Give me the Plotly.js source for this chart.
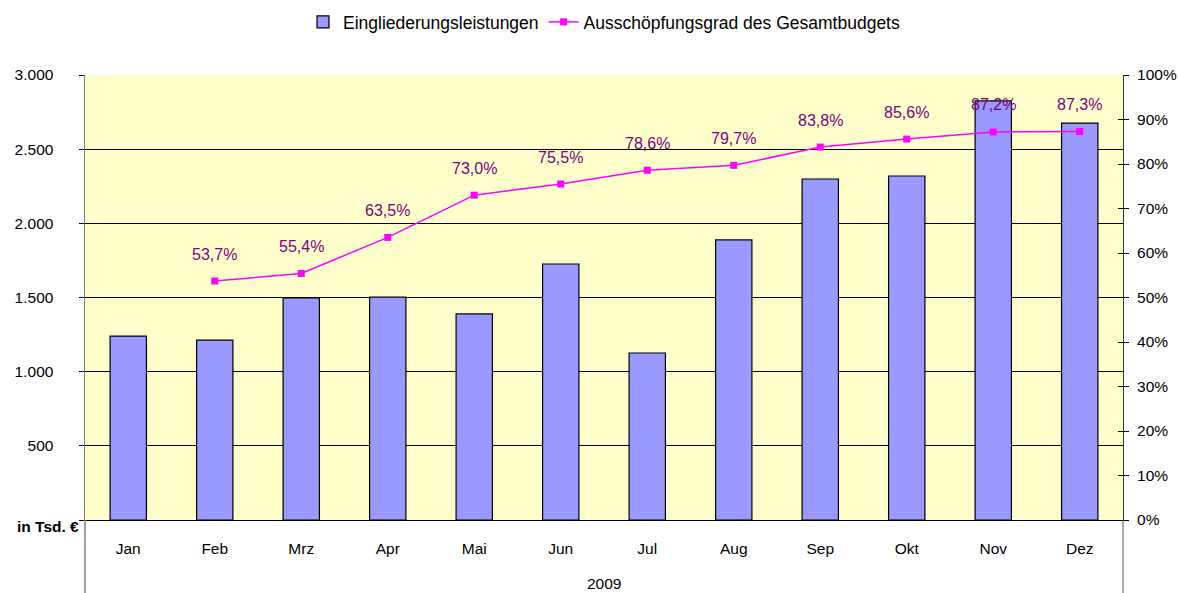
<!DOCTYPE html>
<html>
<head>
<meta charset="utf-8">
<script src="https://cdn.plot.ly/plotly-3.0.1.min.js"></script>
<style>html,body{margin:0;padding:0;background:#fff;}#chart{width:1178px;height:593px;}</style>
</head>
<body>
<div id="chart"></div>
<script>
var months = ["Jan","Feb","Mrz","Apr","Mai","Jun","Jul","Aug","Sep","Okt","Nov","Dez"];
var leistungen = [1240,1213,1497,1503,1389,1726,1126,1888,2299,2319,2825,2676];
var ausschoepfung = [null,53.7,55.4,63.5,73.0,75.5,78.6,79.7,83.8,85.6,87.2,87.3];
var leftTickVals = [0,500,1000,1500,2000,2500,3000];
var leftTickText = ["","500","1.000","1.500","2.000","2.500","3.000"];
var unitLabel = "in Tsd. €";
var yearLabel = "2009";

var font = "Liberation Sans, Arial, sans-serif";

var traces = [
  {type:"bar", name:"Eingliederungsleistungen", x:months, y:leistungen, width:0.42,
   marker:{color:"#9999FF", line:{color:"#000000", width:1.2}}, yaxis:"y"},
  {type:"scatter", mode:"lines+markers", name:"Ausschöpfungsgrad des Gesamtbudgets",
   x:months, y:ausschoepfung, yaxis:"y2", connectgaps:false,
   line:{color:"#FF00FF", width:1.5}, marker:{symbol:"square", size:7, color:"#FF00FF"}},
  {type:"scatter", mode:"none", x:[months[0]], y:[0], yaxis:"y3", showlegend:false, hoverinfo:"skip"}
];

var annotations = [];
for (var i = 0; i < months.length; i++) {
  if (ausschoepfung[i] === null) continue;
  annotations.push({x:months[i], y:ausschoepfung[i], xref:"x", yref:"y2",
    text: ausschoepfung[i].toFixed(1).replace(".", ",") + "%", showarrow:false,
    yshift:27, font:{family:font, size:16, color:"#800080"}});
}
annotations.push({x:0.5, y:-(583-520)/445, xref:"paper", yref:"paper", text:yearLabel,
  showarrow:false, yanchor:"middle", font:{family:font, size:15.5, color:"#000"}});
annotations.push({x:0, y:0, xref:"paper", yref:"y", text:"<b>" + unitLabel + "</b>",
  showarrow:false, xanchor:"right", yanchor:"middle", xshift:-4, yshift:-6,
  font:{family:font, size:15.5, color:"#000"}});

var layout = {
  width:1178, height:593,
  margin:{l:85, r:55, t:75, b:73},
  paper_bgcolor:"#FFFFFF", plot_bgcolor:"#FFFFCC",
  font:{family:font, size:15.5, color:"#000"},
  showlegend:true,
  legend:{orientation:"h", x:0.5, xanchor:"center", xref:"paper", y:1-22/593, yref:"container", yanchor:"middle",
    font:{family:font, size:17.5, color:"#000"}, bgcolor:"rgba(0,0,0,0)"},
  xaxis:{type:"category", range:[-0.5, 11.5], showline:true, linecolor:"#000", linewidth:1, ticks:"",
    showgrid:false, zeroline:false, ticklabelstandoff:14, fixedrange:true},
  yaxis:{range:[0,3000], tickvals:leftTickVals, ticktext:leftTickText, ticks:"outside",
    ticklen:5, tickcolor:"#000", showline:true, linecolor:"#808080", linewidth:1.5,
    showgrid:true, gridcolor:"#000000", gridwidth:1, zeroline:false, ticklabelstandoff:22},
  yaxis2:{range:[0,100], overlaying:"y", side:"right", dtick:10, ticksuffix:"%",
    ticks:"outside", ticklen:5, tickcolor:"#000", showline:true, linecolor:"#333",
    linewidth:1, showgrid:false, zeroline:false, ticklabelstandoff:5},
  yaxis3:{range:[0,100], overlaying:"y", side:"right", dtick:10, showticklabels:false,
    ticks:"inside", ticklen:5, tickcolor:"#000", showline:false, showgrid:false, zeroline:false},
  annotations:annotations,
  shapes:[
    {type:"line", xref:"paper", yref:"paper", x0:0, x1:0, y0:-73/445, y1:0, line:{color:"#808080", width:1.5}},
    {type:"line", xref:"paper", yref:"paper", x0:1, x1:1, y0:-73/445, y1:0, line:{color:"#555555", width:1}}
  ]
};

Plotly.newPlot("chart", traces, layout, {displayModeBar:false, staticPlot:true});
</script>
</body>
</html>
